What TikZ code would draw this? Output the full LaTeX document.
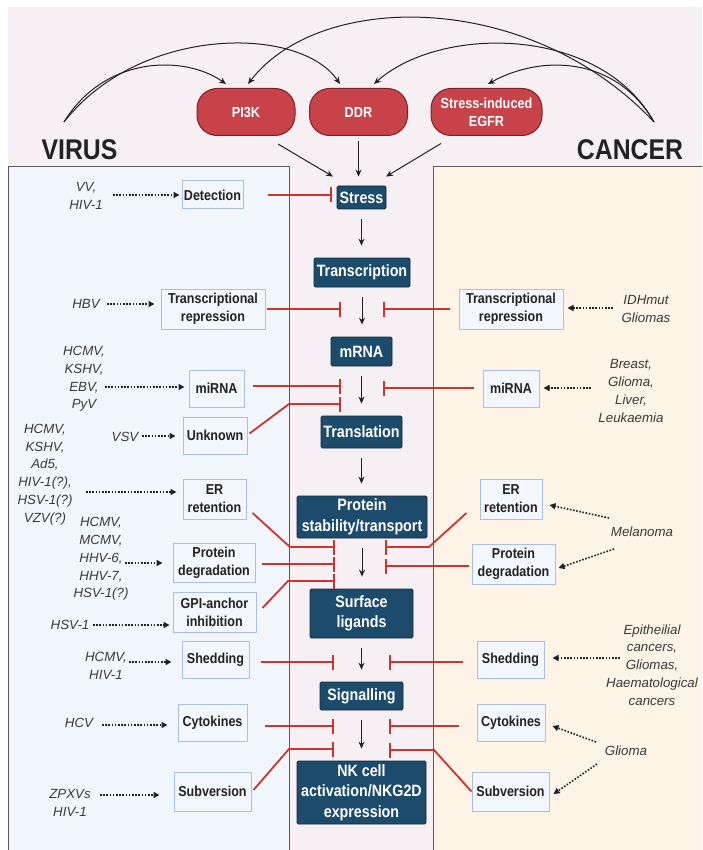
\documentclass[tikz,border=0pt]{standalone}
\usepackage{fontspec}
\setmainfont{Liberation Sans}[FakeStretch=0.87]
\newfontfamily\causefont{Liberation Sans}
\usetikzlibrary{arrows.meta,calc}
\definecolor{bgpink}{HTML}{F6F0F5}
\definecolor{virusbg}{HTML}{F1F5FC}
\definecolor{cancerbg}{HTML}{FDF3E6}
\definecolor{navy}{HTML}{1D4B6B}
\definecolor{navyedge}{HTML}{10293B}
\definecolor{boxedge}{HTML}{A9BEE8}
\definecolor{boxfill}{HTML}{F2F6FD}
\definecolor{pillred}{HTML}{C8424A}
\definecolor{pilledge}{HTML}{7E1F25}
\definecolor{inhred}{HTML}{D0332E}
\definecolor{ink}{HTML}{222222}
\definecolor{labelgray}{HTML}{3A3A3A}
\definecolor{panelline}{HTML}{5A5A5A}
\tikzset{
  stepnode/.style={fill=navy, draw=navyedge, line width=0.8pt, rounded corners=1.5pt, text=white,
    font=\bfseries\fontsize{16.4}{20.5}\selectfont, align=center, inner sep=0pt},
  factor/.style={fill=boxfill, draw=boxedge, line width=1pt, text=ink,
    font=\bfseries\fontsize{14.4}{18}\selectfont, align=center, inner sep=0pt},
  pill/.style={fill=pillred, draw=pilledge, line width=1pt, rounded corners=20pt, text=white,
    font=\bfseries\fontsize{14.6}{18.3}\selectfont, align=center, minimum width=98pt, minimum height=47pt, inner sep=0pt},
  cause/.style={font=\causefont\itshape\fontsize{13.3}{17.8}\selectfont, text=labelgray, align=center, inner sep=0pt},
  flow/.style={draw=ink, line width=1pt, -{Stealth[length=7pt,width=6pt]}},
  inh/.style={draw=inhred, line width=1.8pt, -{Bar[width=15pt,line width=1.8pt]}},
  cue/.style={draw=ink, line width=1.6pt, dash pattern=on 1.6pt off 1.6pt, -{Triangle[length=6pt,width=6pt]}},
  title/.style={font=\bfseries\fontsize{28.5}{32}\selectfont, text=ink, inner sep=0pt},
}
\begin{document}
\begin{tikzpicture}[x=1pt,y=-1pt]
\useasboundingbox (0,0) rectangle (702,850);
\clip (0,0) rectangle (702,850);
\fill[white] (0,0) rectangle (702,850);
\fill[bgpink] (8,7) rectangle (702,850);
% side panels
\filldraw[fill=virusbg, draw=panelline, line width=0.9pt] (8,166) rectangle (289,860);
\filldraw[fill=cancerbg, draw=panelline, line width=0.9pt] (433,166) rectangle (712,860);
\node[title] (virus) at (79.5,150) {VIRUS};
\node[title] (cancer) at (630,150) {CANCER};

% upstream signals
\node[pill] (PI3K) at (246,112) {PI3K};
\node[pill] (DDR) at (358.5,112) {DDR};
\node[pill, minimum width=111pt] (EGFR) at (486.5,112) {Stress-induced\\EGFR};

\coordinate (vsrc) at (64,122);
\coordinate (csrc) at (654,122);
\draw[flow] (vsrc) .. controls (105,55) and (185,55) .. ([xshift=-20pt,yshift=4pt]PI3K.north);
\draw[flow] (vsrc) .. controls (140,25) and (300,25) .. ([xshift=-18.5pt,yshift=4pt]DDR.north);
\draw[flow] (csrc) .. controls (615,55) and (540,55) .. ([xshift=1.5pt,yshift=4pt]EGFR.north);
\draw[flow] (csrc) .. controls (600,25) and (440,25) .. ([xshift=15.5pt,yshift=4pt]DDR.north);
\draw[flow] (csrc) .. controls (530,-10) and (320,-10) .. ([xshift=2pt,yshift=4pt]PI3K.north);

% central pathway
\node[stepnode, minimum width=49pt, minimum height=23pt] (Stress) at (361.5,197.5) {Stress};
\node[stepnode, minimum width=96pt, minimum height=29pt] (Transcription) at (362,272.5) {Transcription};
\node[stepnode, minimum width=61pt, minimum height=29pt] (mRNA) at (361.5,351.5) {mRNA};
\node[stepnode, minimum width=81pt, minimum height=32pt] (Translation) at (361.5,432) {Translation};
\node[stepnode, minimum width=130pt, minimum height=42pt] (Protein) at (362,517) {Protein\\stability/transport};
\node[stepnode, minimum width=103pt, minimum height=49pt] (Surface) at (361.5,613.5) {Surface\\ligands};
\node[stepnode, minimum width=83pt, minimum height=28pt] (Signalling) at (361.5,696) {Signalling};
\node[stepnode, minimum width=129pt, minimum height=63pt] (NK) at (361.5,792.5) {NK cell\\activation/NKG2D\\expression};

\draw[flow] ([xshift=32pt,yshift=-8pt]PI3K.south) -- ([xshift=-28.5pt,yshift=9pt]Stress.north);
\draw[flow, shorten <=5pt, shorten >=9pt] (DDR.south) -- (DDR.south |- Stress.north);
\draw[flow] ([xshift=-45.5pt,yshift=-7.5pt]EGFR.south) -- ([xshift=24.5pt,yshift=9pt]Stress.north);

\foreach \a/\b in {Stress/Transcription, Transcription/mRNA, mRNA/Translation, Translation/Protein,
                   Protein/Surface, Surface/Signalling, Signalling/NK}
  \draw[flow, shorten <=10pt, shorten >=12pt] (\a.south) -- (\a.south |- \b.north);

% virus-side mechanisms
\node[factor, minimum width=61pt, minimum height=28pt] (Detl) at (212.5,195) {Detection};
\node[factor, minimum width=104pt, minimum height=40pt] (TRl) at (213,309) {Transcriptional\\repression};
\node[factor, minimum width=55pt, minimum height=37pt] (miRl) at (216.5,388.5) {miRNA};
\node[factor, minimum width=64pt, minimum height=37pt] (Unkl) at (215,435.5) {Unknown};
\node[factor, minimum width=63pt, minimum height=40pt] (ERl) at (214.5,499) {ER\\retention};
\node[factor, minimum width=82pt, minimum height=39pt] (PDl) at (214,562.5) {Protein\\degradation};
\node[factor, minimum width=83pt, minimum height=40pt] (GPIl) at (214.5,612) {GPI-anchor\\inhibition};
\node[factor, minimum width=67pt, minimum height=37pt] (Shl) at (215.5,659.5) {Shedding};
\node[factor, minimum width=69pt, minimum height=37pt] (Cyl) at (212.5,722.5) {Cytokines};
\node[factor, minimum width=77pt, minimum height=39pt] (Subl) at (212.5,791.5) {Subversion};

% cancer-side mechanisms
\node[factor, minimum width=104pt, minimum height=40pt] (TRr) at (511,309) {Transcriptional\\repression};
\node[factor, minimum width=56pt, minimum height=37pt] (miRr) at (511,388.5) {miRNA};
\node[factor, minimum width=62pt, minimum height=40pt] (ERr) at (511,499) {ER\\retention};
\node[factor, minimum width=83pt, minimum height=40pt] (PDr) at (513.5,564) {Protein\\degradation};
\node[factor, minimum width=67pt, minimum height=37pt] (Shr) at (510.5,659.5) {Shedding};
\node[factor, minimum width=68pt, minimum height=37pt] (Cyr) at (511,722.5) {Cytokines};
\node[factor, minimum width=77pt, minimum height=39pt] (Subr) at (510.5,791.5) {Subversion};

% causes
\node[cause] (cDet) at (86,196) {VV,\\HIV-1};
\node[cause] (cHBV) at (86,304) {HBV};
\node[cause] (cmiRl) at (84,379) {HCMV,\\KSHV,\\EBV,\\PyV};
\node[cause] (cVSV) at (125,437) {VSV};
\node[cause] (cERl) at (45,474.5) {HCMV,\\KSHV,\\Ad5,\\HIV-1(?),\\HSV-1(?)\\VZV(?)};
\node[cause] (cPDl) at (101,559) {HCMV,\\MCMV,\\HHV-6,\\HHV-7,\\HSV-1(?)};
\node[cause] (cGPI) at (70,625) {HSV-1};
\node[cause] (cShl) at (106,666) {HCMV,\\HIV-1};
\node[cause] (cCyl) at (79,723) {HCV};
\node[cause] (cSubl) at (70,803) {ZPXVs\\HIV-1};
\node[cause] (cTRr) at (646,309) {IDHmut\\Gliomas};
\node[cause] (cmiRr) at (631,391) {Breast,\\Glioma,\\Liver,\\Leukaemia};
\node[cause] (cMel) at (642,532) {Melanoma};
\node[cause] (cShr) at (652,665) {Epitheilial\\cancers,\\Gliomas,\\Haematological\\cancers};
\node[cause] (cGli) at (626,751) {Glioma};

% dotted cause arrows
\coordinate (sDet) at (113,195);
\coordinate (sHBV) at (107,304);
\coordinate (smiRl) at (105,387);
\coordinate (sVSV) at (142,436);
\coordinate (sERl) at (86,492);
\coordinate (sPDl) at (125,563);
\coordinate (sGPI) at (93,625);
\coordinate (sShl) at (129,662);
\coordinate (sCyl) at (102,725);
\coordinate (sSubl) at (100,795);
\coordinate (sTRr) at (613,308);
\coordinate (smiRr) at (591,388);
\coordinate (sMelER) at (609,518);
\coordinate (sMelPD) at (614,549);
\coordinate (sShr) at (620,658);
\coordinate (sGliCy) at (596,742);
\coordinate (sGliSub) at (597,764);

\draw[cue, shorten >=2pt] (sDet) -- (Detl.west |- sDet);
\draw[cue, shorten >=6pt] (sHBV) -- (TRl.west |- sHBV);
\draw[cue, shorten >=4pt] (smiRl) -- (miRl.west |- smiRl);
\draw[cue, shorten >=7pt] (sVSV) -- (Unkl.west |- sVSV);
\draw[cue, shorten >=6pt] (sERl) -- (ERl.west |- sERl);
\draw[cue, shorten >=10pt] (sPDl) -- (PDl.west |- sPDl);
\draw[cue, shorten >=3pt] (sGPI) -- (GPIl.west |- sGPI);
\draw[cue, shorten >=10pt] (sShl) -- (Shl.west |- sShl);
\draw[cue, shorten >=10pt] (sCyl) -- (Cyl.west |- sCyl);
\draw[cue, shorten >=14pt] (sSubl) -- (Subl.west |- sSubl);
\draw[cue, shorten >=4pt] (sTRr) -- (TRr.east |- sTRr);
\draw[cue, shorten >=4pt] (smiRr) -- (miRr.east |- smiRr);
\draw[cue] (sMelER) -- ([xshift=7pt,yshift=-6pt]ERr.east);
\draw[cue] (sMelPD) -- ([xshift=3pt,yshift=-4pt]PDr.east);
\draw[cue, shorten >=8pt] (sShr) -- (Shr.east |- sShr);
\draw[cue] (sGliCy) -- ([xshift=7pt,yshift=-3.5pt]Cyr.east);
\draw[cue] (sGliSub) -- ([xshift=4pt,yshift=-2.5pt]Subr.east);

% inhibition targets
\coordinate (bDet) at (332,195);
\coordinate (bTRl) at (341,309);
\coordinate (bTRr) at (383,309);
\coordinate (bmiRl) at (341,386);
\coordinate (bmiRr) at (383,388);
\coordinate (kUnk) at (289,404);
\coordinate (bUnk) at (341,404);
\coordinate (kERl) at (290,547);
\coordinate (bERl) at (335,547);
\coordinate (bPDl) at (335,564);
\coordinate (kGPI) at (288,581);
\coordinate (bGPI) at (335,581);
\coordinate (kERr) at (429,547);
\coordinate (bERr) at (385,547);
\coordinate (bPDr) at (385,566);
\coordinate (bShl) at (334,662);
\coordinate (bShr) at (389,662);
\coordinate (bCyl) at (334,726);
\coordinate (bCyr) at (389,726);
\coordinate (kSubl) at (289,749);
\coordinate (bSubl) at (334,749);
\coordinate (kSubr) at (434,750);
\coordinate (bSubr) at (389,750);

\draw[inh, shorten <=24pt] (Detl.east) -- (bDet);
\draw[inh, shorten <=1pt] (TRl.east) -- (bTRl);
\draw[inh, shorten <=9pt] (TRr.west) -- (bTRr);
\draw[inh, shorten <=8pt] (miRl.east |- bmiRl) -- (bmiRl);
\draw[inh, shorten <=9pt] (miRr.west |- bmiRr) -- (bmiRr);
\draw[inh] ([xshift=2pt,yshift=2pt]Unkl.east) -- (kUnk) -- (bUnk);
\draw[inh] ([xshift=6pt,yshift=-14pt]ERl.east) -- (kERl) -- (bERl);
\draw[inh, shorten <=6pt] (PDl.east |- bPDl) -- (bPDl);
\draw[inh] ([xshift=6pt,yshift=4pt]GPIl.east) -- (kGPI) -- (bGPI);
\draw[inh] ([xshift=-13pt,yshift=-14pt]ERr.west) -- (kERr) -- (bERr);
\draw[inh, shorten <=3pt] (PDr.west |- bPDr) -- (bPDr);
\draw[inh, shorten <=11pt] (Shl.east |- bShl) -- (bShl);
\draw[inh, shorten <=14pt] (Shr.west |- bShr) -- (bShr);
\draw[inh, shorten <=17pt] (Cyl.east |- bCyl) -- (bCyl);
\draw[inh, shorten <=18pt] (Cyr.west |- bCyr) -- (bCyr);
\draw[inh] ([xshift=2pt,yshift=1.5pt]Subl.east) -- (kSubl) -- (bSubl);
\draw[inh] (Subr.west) -- (kSubr) -- (bSubr);
\end{tikzpicture}
\end{document}
